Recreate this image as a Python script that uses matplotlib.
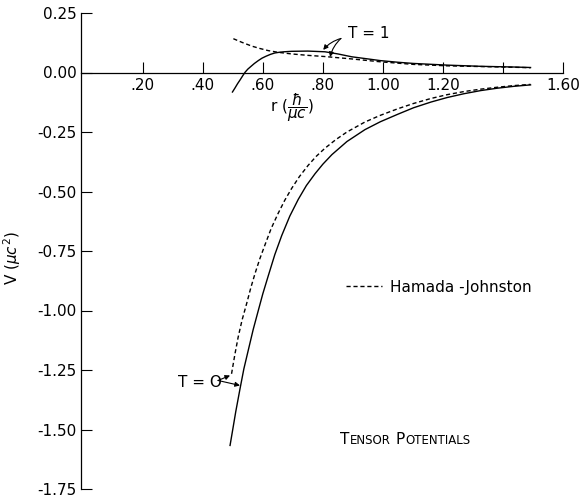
import matplotlib

matplotlib.use("Agg")
import matplotlib.pyplot as plt

# --- values (r in hbar/mu c, V in mu c^2) -------------------------------------------
r_t0_model = [0.491, 0.500, 0.510, 0.524, 0.537, 0.552, 0.568, 0.585, 0.600, 0.618, 0.640,
              0.663, 0.690, 0.718, 0.745, 0.774, 0.800, 0.830, 0.880, 0.940, 0.991, 1.050,
              1.102, 1.160, 1.214, 1.270, 1.325, 1.380, 1.436, 1.491]
v_t0_model = [-1.567, -1.500, -1.425, -1.330, -1.245, -1.165, -1.080, -1.000, -0.930, -0.855,
              -0.765, -0.685, -0.603, -0.533, -0.475, -0.425, -0.385, -0.345, -0.290, -0.240,
              -0.207, -0.175, -0.148, -0.124, -0.105, -0.089, -0.076, -0.066, -0.058, -0.052]

r_t0_hj = [0.496, 0.507, 0.518, 0.531, 0.546, 0.560, 0.574, 0.590, 0.607, 0.628, 0.651,
           0.673, 0.696, 0.722, 0.751, 0.778, 0.807, 0.843, 0.880, 0.940, 0.991, 1.050,
           1.102, 1.160, 1.214, 1.270, 1.325, 1.380, 1.436, 1.491]
v_t0_hj = [-1.266, -1.185, -1.112, -1.040, -0.972, -0.905, -0.845, -0.783, -0.725, -0.655,
           -0.592, -0.537, -0.487, -0.437, -0.390, -0.352, -0.318, -0.282, -0.250, -0.208,
           -0.180, -0.152, -0.130, -0.109, -0.093, -0.080, -0.070, -0.062, -0.055, -0.050]

r_t1_model = [0.499, 0.507, 0.516, 0.525, 0.533, 0.541, 0.550, 0.560, 0.572, 0.585, 0.597,
              0.610, 0.625, 0.640, 0.655, 0.670, 0.696, 0.750, 0.807, 0.850, 0.896, 0.950,
              0.991, 1.050, 1.102, 1.214, 1.325, 1.436, 1.491]
v_t1_model = [-0.082, -0.066, -0.047, -0.030, -0.014, 0.001, 0.014, 0.025, 0.038, 0.050, 0.060,
              0.068, 0.076, 0.082, 0.085, 0.087, 0.089, 0.090, 0.087, 0.078, 0.066, 0.057,
              0.050, 0.043, 0.038, 0.031, 0.026, 0.023, 0.021]

r_t1_hj = [0.502, 0.530, 0.563, 0.590, 0.618, 0.650, 0.696, 0.750, 0.807, 0.896, 0.991,
           1.102, 1.214, 1.325, 1.436, 1.491]
v_t1_hj = [0.142, 0.127, 0.111, 0.101, 0.092, 0.085, 0.078, 0.072, 0.067, 0.057, 0.045,
           0.034, 0.028, 0.025, 0.022, 0.020]

x_ticks = [0.20, 0.40, 0.60, 0.80, 1.00, 1.20, 1.40, 1.60]
x_labels = [".20", ".40", ".60", ".80", "1.00", "1.20", "", "1.60"]
y_ticks = [0.25, 0.00, -0.25, -0.50, -0.75, -1.00, -1.25, -1.50, -1.75]
y_labels = ["0.25", "0.00", "-0.25", "-0.50", "-0.75", "-1.00", "-1.25", "-1.50", "-1.75"]

DASH = (0, (3, 2))
FS = 11

fig = plt.figure(figsize=(5.84, 4.99), dpi=100)
ax = fig.add_axes([81 / 584, 10 / 499, 482.3 / 584, 476 / 499])

ax.plot(r_t0_model, v_t0_model, color="black", lw=1.0)
ax.plot(r_t0_hj, v_t0_hj, color="black", lw=1.0, ls=DASH, label="Hamada -Johnston")
ax.plot(r_t1_model, v_t1_model, color="black", lw=1.0)
ax.plot(r_t1_hj, v_t1_hj, color="black", lw=1.0, ls=DASH)

ax.set_xlim(-0.005, 1.60)
ax.set_ylim(-1.75, 0.25)
for s in ("top", "right"):
    ax.spines[s].set_visible(False)
ax.spines["bottom"].set_position(("data", 0))
for s in ("bottom", "left"):
    ax.spines[s].set_linewidth(0.9)

ax.set_xticks(x_ticks)
ax.set_xticklabels(x_labels, fontsize=FS)
ax.set_yticks(y_ticks)
ax.set_yticklabels(y_labels, fontsize=FS)
ax.tick_params(axis="x", direction="in", length=8, width=0.8, pad=4)
ax.tick_params(axis="y", direction="in", length=8, width=0.8, pad=3)

ax.set_ylabel(r"V ($\mu c^2$)", fontsize=FS)
ax.yaxis.set_label_coords(-0.12, 0.485)
ax.text(0.695, -0.148, r"r ($\dfrac{\hbar}{\mu c}$)", fontsize=FS, ha="center", va="center")

# T = 1 callout
ax.text(0.884, 0.164, "T = 1", fontsize=FS, va="center")
arrow = dict(arrowstyle="-|>", lw=0.8, color="black", mutation_scale=7,
             shrinkA=0, shrinkB=0, connectionstyle="arc3,rad=0.15")
ax.annotate("", xy=(0.801, 0.095), xytext=(0.860, 0.143), arrowprops=arrow)
ax.annotate("", xy=(0.824, 0.065), xytext=(0.860, 0.143), arrowprops=arrow)

# T = 0 callout
ax.text(0.318, -1.303, "T = O", fontsize=FS, va="center")
straight = dict(arrow, connectionstyle="arc3,rad=0")
ax.annotate("", xy=(0.491, -1.273), xytext=(0.451, -1.294), arrowprops=straight)
ax.annotate("", xy=(0.524, -1.315), xytext=(0.451, -1.294), arrowprops=straight)

ax.legend(loc="center left", bbox_to_anchor=(0.549, 0.424), frameon=False, fontsize=FS,
          borderpad=0, borderaxespad=0, handlelength=2.4, handletextpad=0.5)

# small-caps title
t1 = ax.text(0.857, -1.575, "T", fontsize=FS, va="bottom")
t2 = ax.annotate("ENSOR", xy=(1, 0), xycoords=t1, va="bottom", fontsize=8.5)
t3 = ax.annotate("P", xy=(1, 0), xycoords=t2, xytext=(4, 0), textcoords="offset points",
                 va="bottom", fontsize=FS)
ax.annotate("OTENTIALS", xy=(1, 0), xycoords=t3, va="bottom", fontsize=8.5)

fig.savefig("out.png", dpi=100)
